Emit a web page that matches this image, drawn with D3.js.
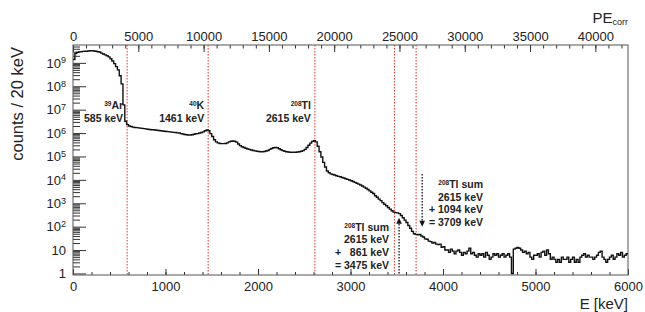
<!DOCTYPE html>
<html>
<head>
<meta charset="utf-8">
<script src="https://cdn.jsdelivr.net/npm/d3@7"></script>
<style>
  body { margin: 0; background: #fff; }
  svg { display: block; font-family: "Liberation Sans", Arial, Helvetica, sans-serif; }
  .tick text { font-size: 13px; fill: #222; }
  .note { font-size: 10.5px; font-weight: bold; fill: #222; }
</style>
</head>
<body>
<div id="chart"></div>
<script>
// spectrum, 20 keV bins from 0 to 6000 keV (counts per bin)
const binWidth = 20;
const counts = [
  1.4e9, 2.5e9, 2.8e9, 2.95e9, 3.0e9, 3.1e9, 3.15e9, 3.15e9, 3.2e9, 3.3e9,
  3.3e9, 3.2e9, 3.15e9, 3.0e9, 2.9e9, 2.6e9, 2.4e9, 2.2e9, 2.0e9, 1.8e9,
  1.5e9, 1.2e9, 9.3e8, 6.9e8, 5.0e8, 2.8e8, 1.26e8, 1.6e7, 3.2e6, 2.3e6,
  2.0e6, 1.9e6, 1.8e6, 1.74e6, 1.7e6, 1.66e6, 1.62e6, 1.58e6, 1.55e6, 1.51e6,
  1.45e6, 1.41e6, 1.38e6, 1.38e6, 1.35e6, 1.32e6, 1.29e6, 1.26e6, 1.23e6, 1.2e6,
  1.17e6, 1.15e6, 1.12e6, 1.1e6, 1.07e6, 1.05e6, 1.02e6, 1.0e6, 9.5e5, 9.1e5,
  8.7e5, 8.5e5, 8.3e5, 8.3e5, 8.5e5, 8.9e5, 9.3e5, 9.5e5, 1.0e6, 1.05e6,
  1.12e6, 1.26e6, 1.35e6, 1.26e6, 9.5e5, 7.1e5, 5.2e5, 4.2e5, 3.8e5, 3.6e5,
  3.55e5, 3.55e5, 3.6e5, 3.8e5, 4.2e5, 4.5e5, 4.6e5, 4.5e5, 4.1e5, 3.4e5,
  2.9e5, 2.6e5, 2.4e5, 2.24e5, 2.1e5, 2.0e5, 1.9e5, 1.8e5, 1.74e5, 1.66e5,
  1.62e5, 1.58e5, 1.58e5, 1.62e5, 1.7e5, 1.8e5, 2.0e5, 2.2e5, 2.35e5, 2.4e5,
  2.35e5, 2.14e5, 1.95e5, 1.78e5, 1.66e5, 1.58e5, 1.55e5, 1.51e5, 1.51e5, 1.51e5,
  1.51e5, 1.55e5, 1.58e5, 1.66e5, 1.78e5, 2.0e5, 2.4e5, 3.0e5, 3.7e5, 4.4e5,
  4.7e5, 4.2e5, 2.75e5, 1.58e5, 9.5e4, 5.6e4, 3.55e4, 2.4e4, 2.0e4, 1.8e4,
  1.7e4, 1.62e4, 1.51e4, 1.41e4, 1.35e4, 1.26e4, 1.2e4, 1.12e4, 1.05e4, 9.8e3,
  9.1e3, 8.5e3, 7.8e3, 7.2e3, 6.6e3, 6.0e3, 5.5e3, 4.9e3, 4.4e3, 3.9e3,
  3.4e3, 2.95e3, 2.6e3, 2.1e3, 1.8e3, 1.5e3, 1.3e3, 1.07e3, 910, 780,
  660, 560, 480, 420, 400, 390, 360, 300, 240, 190,
  150, 112, 85, 63, 50, 47, 45, 46, 40, 36,
  30, 29, 24, 23, 20, 21, 18, 17, 18, 13,
  14, 10, 10, 8, 11, 9, 7, 9, 10, 8,
  6, 8, 7, 9, 12, 7, 8, 6, 5, 7,
  6, 7, 5, 8, 6, 4, 5, 7, 6, 7,
  5, 6, 7, 5, 6, 7, 5, 1, 11, 12,
  13, 12, 10, 8, 9, 7, 8, 5, 4, 6,
  6, 7, 5, 8, 9, 6, 10, 7, 4, 5,
  4, 3, 4, 3, 5, 4, 4, 5, 3, 4,
  5, 3, 4, 3, 5, 6, 7, 5, 6, 5,
  5, 4, 5, 6, 8, 9, 5, 4, 3, 4,
  5, 6, 4, 5, 7, 6, 8, 5, 6, 7
];

// energy lines (keV) and their labels
const lineEnergies = [585, 1461, 2615, 3475, 3709];
const peakIsotopes = ["39", "40", "208"];
const peakElements = ["Ar", "K", "Tl"];
const peakEnergies = ["585 keV", "1461 keV", "2615 keV"];
const sumLow = ["2615 keV", "+ \u2007861 keV", "= 3475 keV"];
const sumHigh = ["2615 keV", "+ 1094 keV", "= 3709 keV"];

// ticks
const eMajor = d3.range(0, 6001, 1000);
const eMinor = d3.range(0, 6001, 200);
const peMajor = d3.range(0, 40001, 5000);
const peMinor = d3.range(0, 42001, 1000);
const yMajor = d3.range(0, 10).map((k) => Math.pow(10, k));

// creating a frame
const WIDTH = 645;
const HEIGHT = 312;
const MARGINS = {left: 73, right: 17, top: 45, bottom: 37};

const svg = d3.select("#chart")
  .append("svg")
    .attr("width", WIDTH)
    .attr("height", HEIGHT);

const x = d3.scaleLinear()
  .domain([0, counts.length * binWidth])
  .range([MARGINS.left, WIDTH - MARGINS.right]);

const xTop = d3.scaleLinear()
  .domain([0, 42500])
  .range([MARGINS.left, WIDTH - MARGINS.right]);

const y = d3.scaleLog()
  .domain([0.86, 5.8e9])
  .range([HEIGHT - MARGINS.bottom, MARGINS.top]);

const bottom = HEIGHT - MARGINS.bottom;

// minor ticks for the log axis
const yMinor = [];
yMajor.forEach((p) => {
  for (let m = 2; m < 10; m++) {
    if (p * m < 5.8e9) yMinor.push(p * m);
  }
});

// bottom axis
svg.append("g")
    .attr("transform", "translate(0," + bottom + ")")
    .call(d3.axisBottom(x).tickValues(eMinor).tickSize(-3).tickFormat(""));
svg.append("g")
    .attr("transform", "translate(0," + bottom + ")")
    .call(d3.axisBottom(x).tickValues(eMajor).tickSize(-6).tickPadding(7)
      .tickFormat(d3.format("d")));

// top axis
svg.append("g")
    .attr("transform", "translate(0," + MARGINS.top + ")")
    .call(d3.axisTop(xTop).tickValues(peMinor).tickSize(-3.5).tickFormat(""));
svg.append("g")
    .attr("transform", "translate(0," + MARGINS.top + ")")
    .call(d3.axisTop(xTop).tickValues(peMajor).tickSize(-7).tickPadding(4)
      .tickFormat(d3.format("d")));

// left axis
svg.append("g")
    .attr("transform", "translate(" + MARGINS.left + ",0)")
    .call(d3.axisLeft(y).tickValues(yMinor).tickSize(-7).tickFormat(""));
const yAxis = svg.append("g")
    .attr("transform", "translate(" + MARGINS.left + ",0)")
    .call(d3.axisLeft(y).tickValues(yMajor).tickSize(-13).tickPadding(7)
      .tickFormat(""));

// labels like 10^5 with a raised exponent
yAxis.selectAll(".tick text").each(function(d) {
  const t = d3.select(this);
  const k = Math.round(Math.log10(d));
  if (k === 0) {
    t.text("1");
  } else if (k === 1) {
    t.text("10");
  } else {
    t.append("tspan").text("10");
    t.append("tspan").attr("dy", "-0.45em").style("font-size", "9px").text(k);
  }
});

svg.selectAll(".domain").remove();
svg.selectAll(".tick line").attr("stroke", "#333");

// frame
svg.append("rect")
    .attr("x", MARGINS.left)
    .attr("y", MARGINS.top)
    .attr("width", WIDTH - MARGINS.left - MARGINS.right)
    .attr("height", HEIGHT - MARGINS.top - MARGINS.bottom)
    .attr("fill", "none")
    .attr("stroke", "#555")
    .attr("stroke-width", 1);

// red dotted energy lines
svg.selectAll("line.eline")
  .data(lineEnergies)
  .enter()
  .append("line")
    .attr("class", "eline")
    .attr("x1", (d) => x(d))
    .attr("x2", (d) => x(d))
    .attr("y1", MARGINS.top)
    .attr("y2", bottom)
    .attr("stroke", "#e0302a")
    .attr("stroke-width", 1)
    .attr("stroke-dasharray", "1.5,1.5");

// histogram as a step line
const pts = counts.map((c, i) => [i * binWidth, c]);
pts.push([counts.length * binWidth, counts[counts.length - 1]]);

const step = d3.line()
  .x((d) => x(d[0]))
  .y((d) => y(Math.max(d[1], 0.86)))
  .curve(d3.curveStepAfter);

svg.append("path")
    .datum(pts)
    .attr("d", step)
    .attr("fill", "none")
    .attr("stroke", "#111")
    .attr("stroke-width", 1.4);

// writes an isotope label, e.g. 39Ar, right aligned at xr
function isotope(xr, yb, mass, name) {
  const t = svg.append("text")
      .attr("class", "note")
      .attr("x", xr)
      .attr("y", yb)
      .attr("text-anchor", "end");
  t.append("tspan").attr("dy", "-3").style("font-size", "6.5px").text(mass);
  t.append("tspan").attr("dy", "3").text(name);
}

peakIsotopes.forEach((m, i) => {
  const xr = x(lineEnergies[i]) - 4;
  isotope(xr, 109, m, peakElements[i]);
  svg.append("text")
      .attr("class", "note")
      .attr("x", xr)
      .attr("y", 122)
      .attr("text-anchor", "end")
      .text(peakEnergies[i]);
});

// sum peak notes
function sumNote(xr, yb, rows) {
  isotope(xr, yb, "208", "Tl sum");
  rows.forEach((r, i) => {
    svg.append("text")
        .attr("class", "note")
        .attr("x", xr)
        .attr("y", yb + 12.7 * (i + 1))
        .attr("text-anchor", "end")
        .text(r);
  });
}
sumNote(389, 230.5, sumLow);
sumNote(483, 188, sumHigh);

// dotted arrows
function arrow(e, from, to) {
  const xa = x(e);
  const y0 = y(from);
  const y1 = y(to);
  const dir = y1 < y0 ? 1 : -1;
  svg.append("line")
      .attr("x1", xa)
      .attr("x2", xa)
      .attr("y1", y0)
      .attr("y2", y1 + dir * 5)
      .attr("stroke", "#111")
      .attr("stroke-width", 1.3)
      .attr("stroke-dasharray", "1.5,1.5");
  svg.append("path")
      .attr("d", "M" + xa + "," + y1 + "L" + (xa - 2.8) + "," + (y1 + dir * 6)
        + "L" + (xa + 2.8) + "," + (y1 + dir * 6) + "Z")
      .attr("fill", "#111");
}
arrow(3525, 1, 240);
arrow(3775, 1.8e4, 100);

// axis titles
svg.append("text")
    .attr("transform", "translate(23,47) rotate(-90)")
    .attr("text-anchor", "end")
    .style("font-size", "16.5px")
    .attr("fill", "#222")
    .text("counts / 20 keV");

svg.append("text")
    .attr("x", WIDTH - MARGINS.right)
    .attr("y", 309)
    .attr("text-anchor", "end")
    .style("font-size", "15px")
    .attr("fill", "#222")
    .text("E [keV]");

const pe = svg.append("text")
    .attr("x", WIDTH - MARGINS.right)
    .attr("y", 23)
    .attr("text-anchor", "end")
    .style("font-size", "15px")
    .attr("fill", "#222");
pe.append("tspan").text("PE");
pe.append("tspan").attr("dy", "2").style("font-size", "9px").text("corr");
</script>
</body>
</html>
